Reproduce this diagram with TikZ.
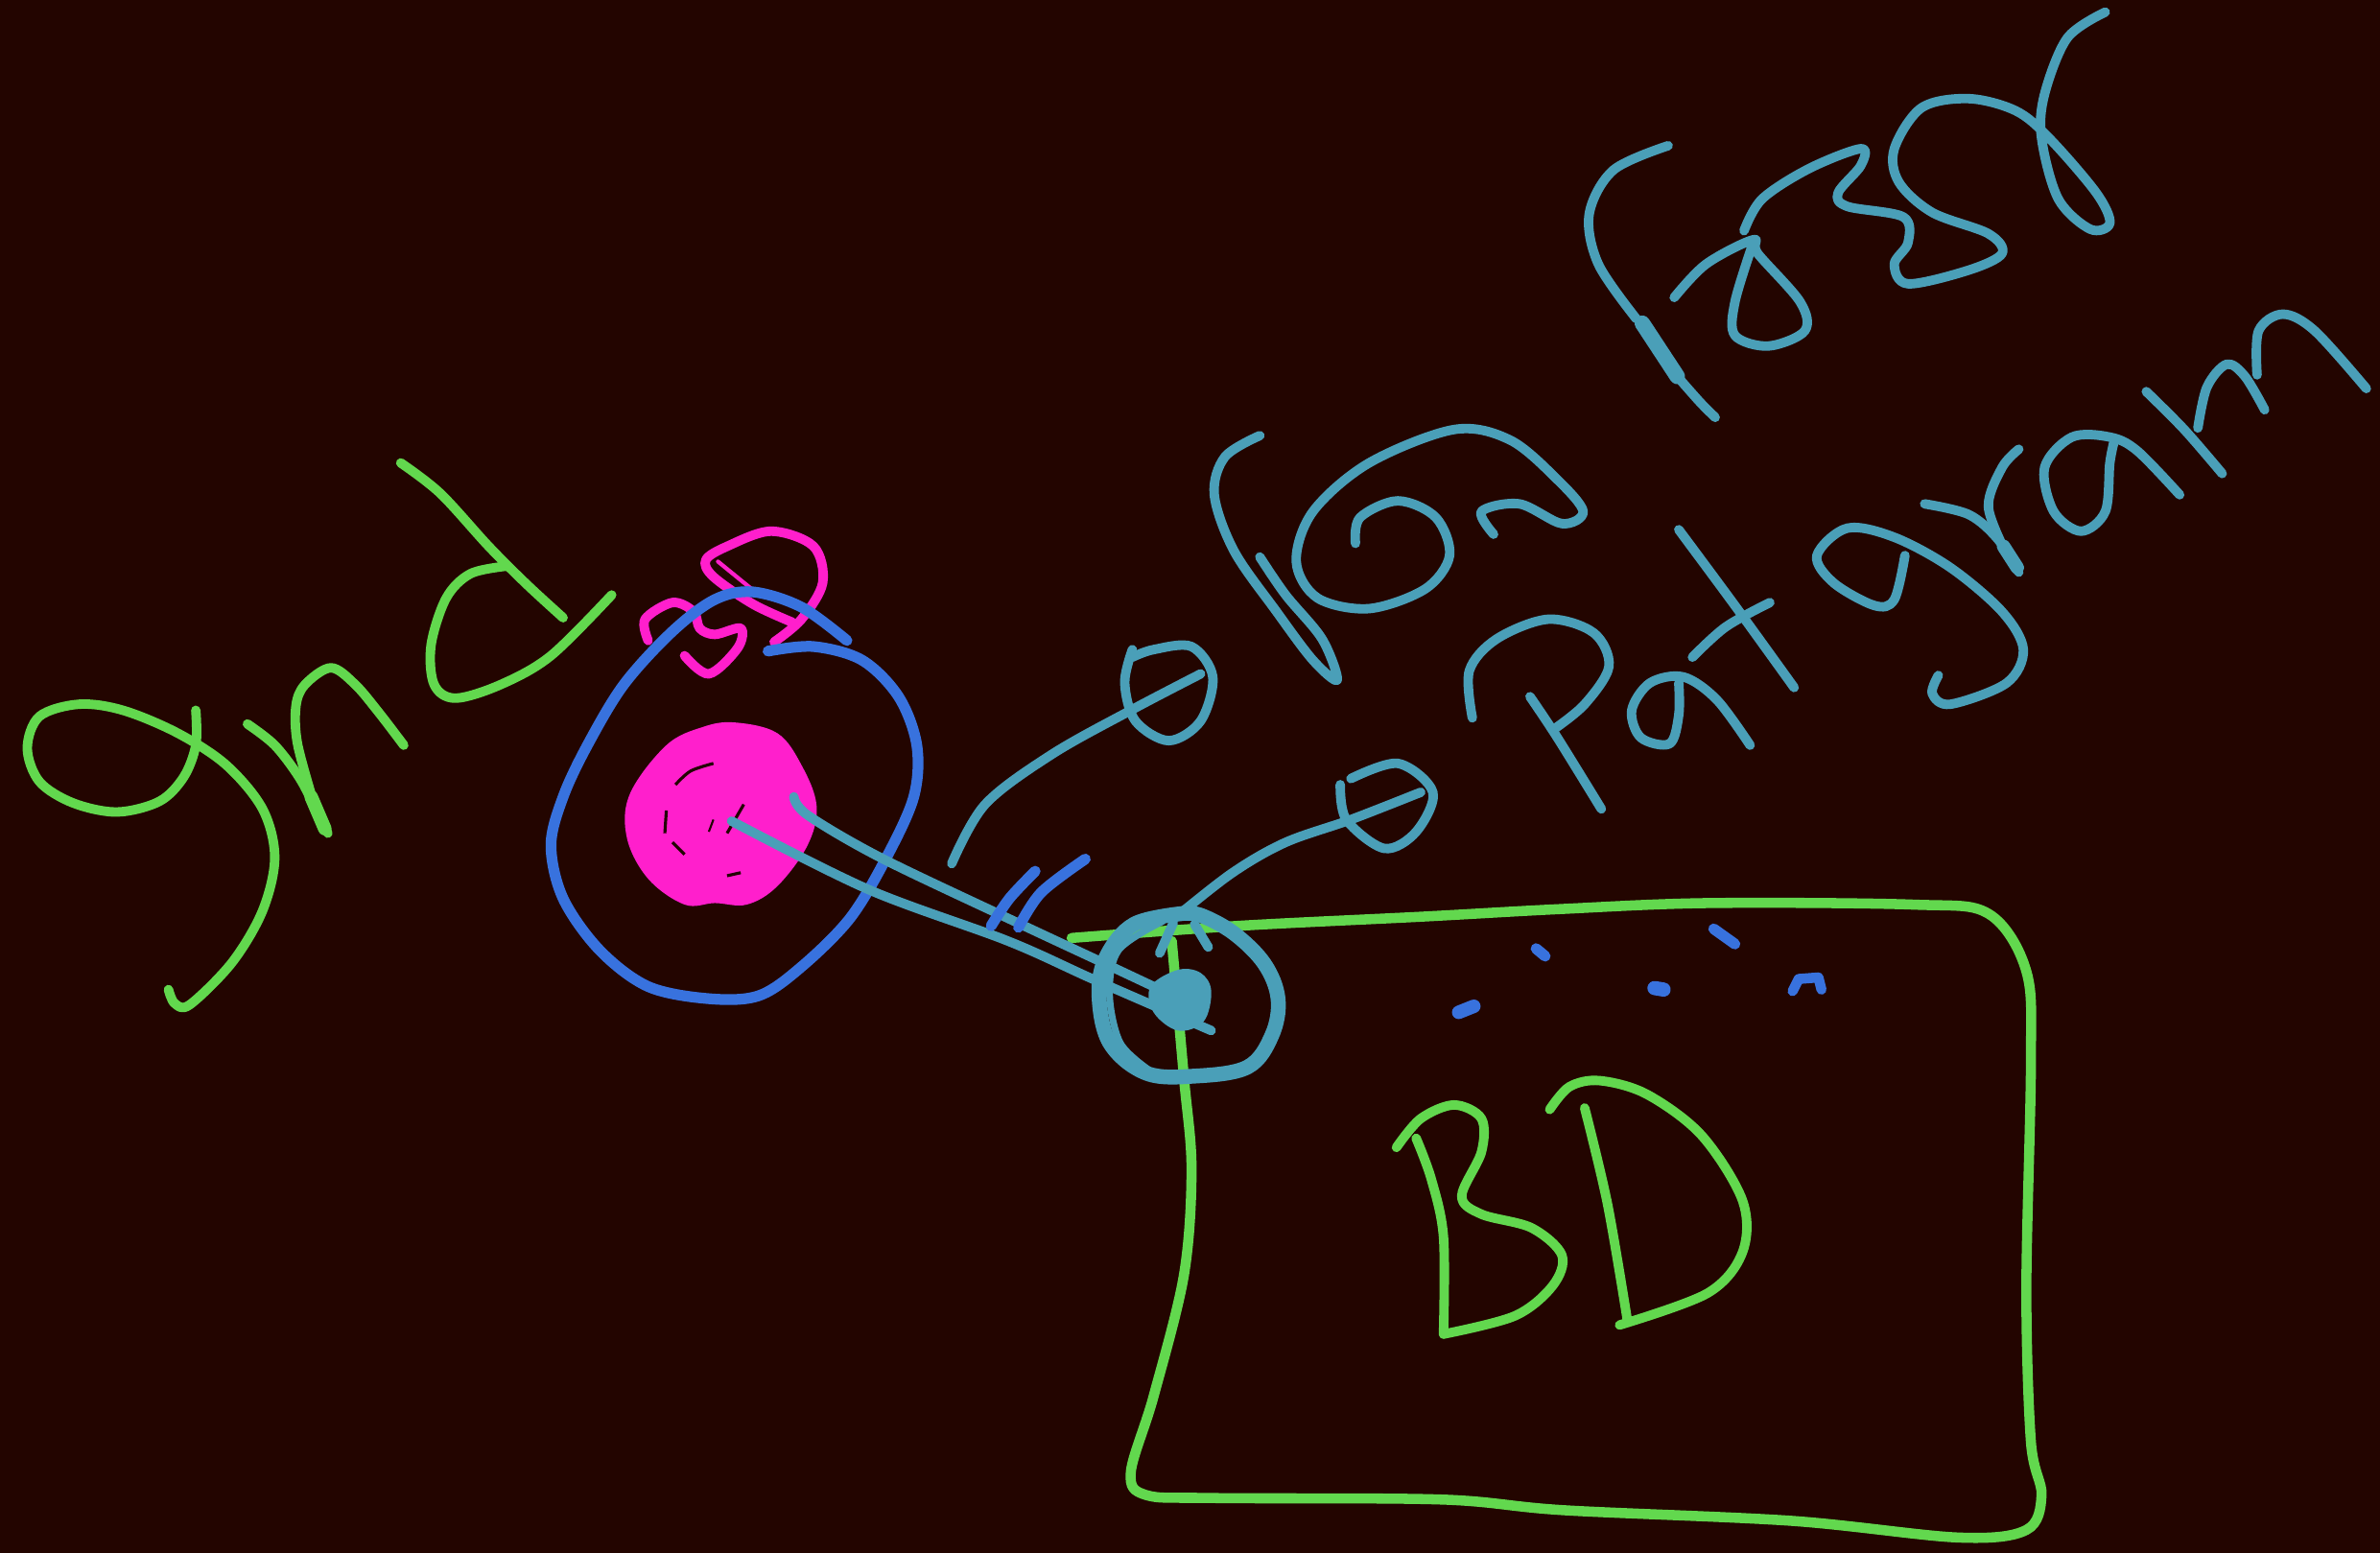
\documentclass[tikz,border=0pt]{standalone}
\usepackage{xcolor}
\usepackage{tikz}
\definecolor{inkbg}{RGB}{35,5,0}
\definecolor{inkgreen}{RGB}{98,216,78}
\definecolor{inkteal}{RGB}{74,159,184}
\definecolor{inkblue}{RGB}{56,114,222}
\definecolor{inkpink}{RGB}{255,31,204}
\tikzset{
  pen/.style={line width=2.8pt, line cap=round, line join=round},
  grn/.style={pen, inkgreen},
  tl/.style={pen, inkteal},
  blu/.style={pen, inkblue, line width=3.2pt},
  pnk/.style={pen, inkpink},
  fine/.style={smooth, tension=0.55},
}
\begin{document}
\begin{tikzpicture}[x=0.015823cm,y=-0.015823cm]
  \fill[inkbg] (0,0) rectangle (1568,1023);
  \useasboundingbox (0,0) rectangle (1568,1023);
  % gnd
  \draw[grn] plot[fine] coordinates {(129,468) (129,491) (121,512) (105,528) (77,535) (48,529) (26,515) (18,493) (26,472) (52,464) (81,468) (117,483) (149,504) (173,533) (181,565) (173,600) (153,634) (125,662) (115,661) (111,652)};
  \draw[grn] plot[fine] coordinates {(163,477) (181,491) (197,512) (208,533) (216,549)};
  \draw[grn, line width=4pt] (205,525) -- (214,546);
  \draw[grn] plot[fine] coordinates {(207,530) (196,490) (195,465) (201,451) (218,440) (234,451) (250,470) (266,491)};
  \draw[grn] plot[fine] coordinates {(264,305) (290,325) (322,360) (347,385) (371,407)};
  \draw[grn] plot[fine] coordinates {(334,373) (310,378) (294,394) (284,425) (286,451) (300,460) (330,451) (363,432) (403,392)};
  % pink
  \fill[inkpink] plot[smooth cycle, tension=0.6] coordinates {(484,476) (512,483) (528,504) (538,531) (532,557) (512,584) (492,596) (471,595) (451,596) (427,579) (413,552) (415,523) (439,491) (463,479)};
  \draw[inkbg, line width=0.9pt] plot[fine] coordinates {(445,517) (455,508) (470,503)};
  \draw[inkbg, line width=0.9pt] (439,534) -- (438,549);
  \draw[inkbg, line width=0.9pt] (443,555) -- (451,563);
  \draw[inkbg, line width=0.9pt] (479,577) -- (488,575);
  \draw[inkbg, line width=0.9pt] (490,530) -- (479,549);
  \draw[inkbg, line width=0.6pt] (470,540) -- (467,548);
  \draw[pnk] plot[fine] coordinates {(510,423) (528,408) (542,384) (536,360) (508,350) (479,360) (465,369) (470,380) (496,398) (522,410)};
  \draw[pnk, line width=1.2pt] (473,370) -- (500,392);
  \draw[pnk] plot[fine] coordinates {(427,422) (425,408) (443,397) (457,403) (461,414) (471,418) (488,414) (486,427) (467,444) (451,432)};
  % blue ring
  \draw[blu] plot[fine] coordinates {(558,422) (528,400) (496,390) (471,395) (443,416) (411,451) (387,491) (371,525) (363,557) (371,592) (395,626) (427,650) (467,658) (500,656) (528,637) (560,605) (584,565) (602,525) (604,491) (592,459) (568,435) (536,426) (506,429)};
  % box
  \draw[grn, line width=3pt] plot[fine] coordinates {(706,618) (816,610) (936,604) (1027,599) (1125,595) (1260,596) (1310,602) (1335,640) (1338,700) (1335,850) (1338,950) (1345,985) (1335,1008) (1290,1013) (1180,1002) (1030,995) (950,988) (800,987) (755,985) (745,970) (760,920) (780,840) (785,770) (780,710) (772,620)};
  \draw[grn] plot[fine] coordinates {(920,756) (936,737) (958,728) (976,737) (976,759) (963,788) (976,800) (1009,809) (1029,827) (1023,847) (998,867) (951,879)};
  \draw[grn] plot[fine] coordinates {(951,879) (951,815) (943,777) (933,750)};
  \draw[grn] plot[fine] coordinates {(1021,731) (1034,716) (1054,712) (1085,721) (1121,748) (1148,791) (1148,825) (1125,852) (1067,873)};
  \draw[grn] plot[fine] coordinates {(1072,869) (1059,793) (1044,730)};
  % teal writing
  \draw[tl] plot[fine] coordinates {(1099,96) (1063,112) (1047,141) (1053,174) (1078,210)};
  \draw[tl, line width=4.6pt] (1082,213) -- (1105,248);
  \draw[tl] plot[fine] coordinates {(1105,248) (1120,265) (1130,275)};
  \draw[tl] plot[fine] coordinates {(1103,196) (1124,174) (1155,158) (1158,167) (1186,199) (1189,218) (1165,228) (1143,221) (1143,199) (1155,160)};
  \draw[tl] plot[fine] coordinates {(1149,152) (1161,131) (1192,111) (1226,98) (1226,109) (1211,127) (1217,136) (1254,143) (1257,160) (1248,174) (1257,187) (1297,178) (1319,167) (1310,154) (1273,140) (1251,120) (1248,98) (1266,71) (1297,65) (1328,73) (1350,91) (1381,127) (1390,147) (1377,151) (1356,131) (1345,91) (1347,62) (1362,25) (1387,8)};
  \draw[tl] plot[fine] coordinates {(830,287) (807,301) (800,326) (813,363) (841,403) (865,435) (881,448) (871,421) (847,392) (830,367)};
  \draw[tl] plot[fine] coordinates {(893,358) (896,341) (921,330) (946,341) (955,366) (939,388) (902,401) (868,394) (854,370) (865,337) (902,305) (958,283) (995,290) (1026,316) (1043,337) (1029,345) (1001,332) (976,337) (984,352)};
  \draw[tl] plot[fine] coordinates {(746,428) (741,450) (748,475) (770,488) (791,475) (799,446) (785,426) (760,428) (746,433)};
  \draw[tl] plot[fine] coordinates {(791,444) (745,468) (693,497) (649,530) (627,569)};
  \draw[tl] plot[fine] coordinates {(883,517) (887,540) (912,559) (933,548) (944,522) (921,503) (890,513)};
  \draw[tl] plot[fine] coordinates {(936,522) (890,540) (847,555) (812,575) (775,604)};
  \draw[tl] plot[fine] coordinates {(970,473) (968,442) (986,421) (1020,408) (1050,417) (1060,439) (1044,464) (1023,481)};
  \draw[tl] plot[fine] coordinates {(1008,459) (1026,486) (1055,533)};
  \draw[tl] plot[fine] coordinates {(1153,491) (1131,461) (1109,446) (1087,450) (1075,468) (1081,486) (1100,490) (1106,471) (1106,450)};
  \draw[tl] plot[fine] coordinates {(1106,349) (1143,399) (1182,453)};
  \draw[tl] plot[fine] coordinates {(1166,397) (1137,413) (1115,433)};
  \draw[tl] plot[fine] coordinates {(1255,366) (1248,395) (1235,399) (1208,384) (1197,366) (1217,348) (1248,354) (1285,374) (1319,403) (1333,428) (1322,450) (1285,464) (1273,457) (1277,445)};
  \draw[tl] plot[fine] coordinates {(1268,332) (1297,339) (1316,355) (1330,377)};
  \draw[tl, line width=4pt] (1320,360) -- (1329,374);
  \draw[tl] plot[fine] coordinates {(1322,365) (1310,334) (1319,308) (1330,296)};
  \draw[tl] plot[fine] coordinates {(1436,326) (1408,297) (1390,288) (1365,288) (1347,308) (1353,337) (1371,350) (1387,337) (1390,305) (1393,290)};
  \draw[tl] plot[fine] coordinates {(1414,258) (1439,283) (1464,312)};
  \draw[tl] plot[fine] coordinates {(1448,282) (1454,255) (1467,240) (1479,248) (1492,270)};
  \draw[tl] plot[fine] coordinates {(1487,247) (1488,218) (1504,207) (1525,218) (1559,256)};
  % stalk
  \draw[tl] plot[fine] coordinates {(523,525) (532,537) (580,565) (664,605) (726,634) (760,650)};
  \draw[tl] plot[fine] coordinates {(482,541) (572,586) (664,620) (722,646) (798,679)};
  \draw[blu] plot[fine] coordinates {(682,574) (665,592) (653,610)};
  \draw[blu] plot[fine] coordinates {(715,566) (686,588) (671,611)};
  % ring at box corner
  \draw[tl, line width=4.4pt] plot[smooth, tension=0.6] coordinates {(778,602) (747,609) (729,630) (724,655) (731,687) (755,707) (787,709) (822,703) (838,682) (842,658) (833,635) (813,615) (791,603) (778,602)};
  \draw[tl, line width=2pt] plot[fine] coordinates {(766,607) (737,626) (731,655) (738,687) (757,705)};
  \draw[tl] (764,628) -- (773,608);
  \draw[tl] (796,624) -- (787,609);
  \fill[inkteal] plot[smooth cycle, tension=0.6] coordinates {(776,639) (791,641) (798,653) (793,673) (776,679) (760,667) (758,650)};
  % dots
  \draw[blu] (1012,625) -- (1018,630);
  \draw[blu] (1129,612) -- (1143,622);
  \draw[blu, line width=4.2pt] (1090,651) -- (1096,652);
  \draw[blu, line width=4pt] (961,667) -- (971,663);
  \draw[blu, line width=3pt] (1181,653) -- (1185,645) -- (1198,644) -- (1200,652);
\end{tikzpicture}
\end{document}
